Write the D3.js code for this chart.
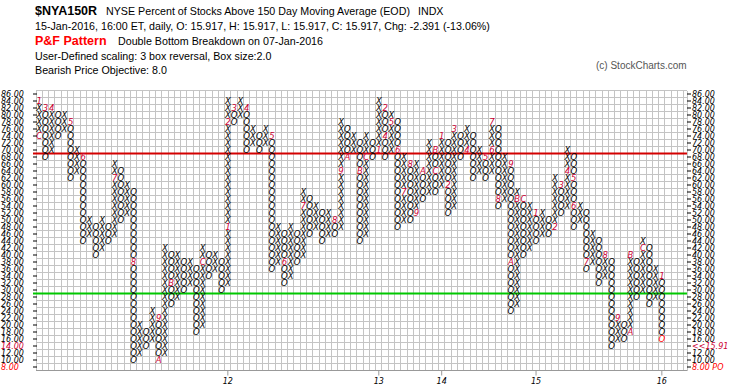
<!DOCTYPE html>
<html><head><meta charset="utf-8">
<script src="https://cdn.jsdelivr.net/npm/d3@7"></script>
<style>body{margin:0;background:#fff;}svg{display:block}</style>
</head><body><svg id="c" width="745" height="391"></svg>
<script>
// ---- DATA ----
const colType = "XOXOXOXOXOXOXOXOXOXOXOXOXOXOXOXOXOXOXOXOXOXOXOXOXOXOXOXOXOXOXOXOXOXOXOXOXOXOXOXOXOXOXOXOXOXOXOXOXOXO";
const colLow  = [74,68,70,74,76,62,64,44,46,40,42,44,46,50,52,10,12,14,16,10,
                 12,26,28,30,32,18,20,34,36,30,32,78,80,70,72,70,72,36,38,32,
                 34,38,40,46,48,44,46,46,48,68,70,44,46,68,70,68,70,48,50,50,
                 52,56,58,58,60,52,54,68,70,62,64,62,64,54,56,24,26,40,42,44,
                 46,46,48,52,54,48,50,36,38,32,34,14,16,16,18,28,30,26,28,16];
const colHigh = [84,82,82,80,80,78,70,68,50,48,50,48,66,64,60,58,20,18,24,22,
                 42,40,40,38,38,36,42,40,40,38,84,82,84,82,76,74,76,74,48,46,
                 48,46,58,56,54,52,52,50,78,76,74,72,74,72,84,82,80,78,68,66,
                 66,64,72,70,74,72,76,74,76,74,70,68,78,76,68,66,58,56,54,52,
                 52,50,62,60,70,68,54,52,46,44,40,38,22,20,40,38,44,42,36,34];
const monthMarks = [
  [0,74,"C"],[0,84,"1"],[1,82,"3"],[2,82,"4"],[5,78,"5"],[7,68,"6"],[12,62,"7"],
  [15,38,"8"],[19,22,"9"],[19,10,"A"],[21,32,"B"],[26,38,"C"],[30,48,"1"],[30,78,"2"],
  [31,82,"3"],[33,82,"4"],[37,74,"5"],[39,38,"6"],[42,54,"7"],[47,50,"8"],[48,64,"9"],
  [49,68,"A"],[51,64,"B"],[52,68,"C"],[54,70,"1"],[55,82,"2"],[55,74,"4"],[56,78,"5"],
  [57,70,"6"],[58,58,"7"],[59,66,"8"],[60,52,"9"],[61,64,"A"],[63,70,"B"],[63,64,"C"],
  [64,74,"1"],[65,60,"2"],[66,76,"3"],[68,70,"4"],[71,68,"5"],[72,70,"6"],[72,78,"7"],
  [73,56,"8"],[75,66,"9"],[75,38,"A"],[76,56,"B"],[77,56,"C"],[79,52,"1"],[82,48,"2"],
  [83,60,"3"],[84,64,"4"],[85,62,"5"],[85,54,"6"],[87,38,"7"],[90,40,"8"],[92,22,"9"],
  [94,18,"A"],[94,40,"B"],[96,42,"C"],[99,34,"1"]];
const lastBox = [99,16];
const yTickValues = [86,84,82,80,78,76,74,72,70,68,66,64,62,60,58,56,54,52,50,48,46,44,
                     42,40,38,36,34,32,30,28,26,24,22,20,18,16,14,12,10,8];
const yearTicks = [[30,"12"],[54,"13"],[64,"14"],[79,"15"],[99,"16"]];
const overbought = 70, oversold = 30;
const lastClose = "<<15.91", priceObjective = "8.00 PO";

// ---- DRAW ----
const svg = d3.select("#c");
svg.append("rect").attr("width",745).attr("height",391).attr("fill","#fff");
const x = d3.scaleLinear().domain([0,103.5]).range([36,687]);
const y = d3.scaleLinear().domain([86,8]).range([94,367]);
const rh = y(84)-y(86);
const gTop = y(86)-rh/2, gBot = y(8)+rh/2, gL = x(0), gR = x(103.5);

// grid
const grid = svg.append("g").attr("stroke","#c4c4c4").attr("stroke-width",1).attr("shape-rendering","crispEdges");
d3.range(0,104).forEach(k=>{ grid.append("line").attr("x1",x(k)).attr("x2",x(k)).attr("y1",gTop).attr("y2",gBot); });
grid.append("line").attr("x1",gR).attr("x2",gR).attr("y1",gTop).attr("y2",gBot);
yTickValues.forEach(v=>{ grid.append("line").attr("x1",gL).attr("x2",gR).attr("y1",y(v)-rh/2).attr("y2",y(v)-rh/2); });
grid.append("line").attr("x1",gL).attr("x2",gR).attr("y1",gBot).attr("y2",gBot).attr("stroke","#999");

// level lines
svg.append("line").attr("x1",gL-3).attr("x2",gR).attr("y1",y(overbought-1)).attr("y2",y(overbought-1))
  .attr("stroke","#d40000").attr("stroke-width",2);
svg.append("line").attr("x1",gL-3).attr("x2",gR).attr("y1",y(oversold-1)).attr("y2",y(oversold-1))
  .attr("stroke","#00c800").attr("stroke-width",2);

// boxes
const markMap = new Map(monthMarks.map(m=>[m[0]+"_"+m[1], m[2]]));
const boxes = [];
colType.split("").forEach((t,i)=>{
  for(let v=colLow[i]; v<=colHigh[i]; v+=2){
    const key=i+"_"+v;
    let txt=t, col="#000";
    if(markMap.has(key)){ txt=markMap.get(key); col="#cc0033"; }
    if(i===lastBox[0] && v===lastBox[1]) col="#ff0000";
    boxes.push({i,v,txt,col});
  }
});
svg.append("g").selectAll("text").data(boxes).join("text")
  .attr("x",d=>x(d.i+0.5)).attr("y",d=>y(d.v)+3.2)
  .attr("text-anchor","middle").attr("font-family","DejaVu Sans").attr("font-style","italic")
  .attr("font-size","8.5px").attr("fill",d=>d.col).text(d=>d.txt);

// y axes
const axF = "DejaVu Sans";
const ax = svg.append("g");
yTickValues.forEach(v=>{
  const c = v===14?"#cc0033":(v===8?"#ff0000":"#000");
  ax.append("line").attr("x1",gL-3).attr("x2",gL+1).attr("y1",y(v)).attr("y2",y(v)).attr("stroke","#000");
  ax.append("text").attr("x",1).attr("y",y(v)+3).attr("font-family",axF).attr("font-style","italic")
    .attr("font-size","8px").attr("fill",c).text(v.toFixed(2));
  ax.append("line").attr("x1",gR).attr("x2",gR+4).attr("y1",y(v)).attr("y2",y(v)).attr("stroke","#000");
  ax.append("text").attr("x",gR+5).attr("y",y(v)+3).attr("font-family",axF).attr("font-style","italic")
    .attr("font-size","8px").attr("fill",c)
    .text(v===14?lastClose:(v===8?priceObjective:v.toFixed(2)));
});

// year ticks
yearTicks.forEach(([c,l])=>{
  svg.append("line").attr("x1",x(c+0.5)).attr("x2",x(c+0.5)).attr("y1",gBot).attr("y2",gBot+5).attr("stroke","#999");
  svg.append("text").attr("x",x(c+0.5)).attr("y",gBot+13).attr("text-anchor","middle")
    .attr("font-family",axF).attr("font-style","italic").attr("font-size","8px").text(l);
});

// header
const hf = "Liberation Sans, Arial, sans-serif";
svg.append("text").attr("x",35).attr("y",15).attr("font-family",hf).attr("font-weight","bold").attr("font-size","12.5px").text("$NYA150R");
const t1 = svg.append("text").attr("x",106).attr("y",15).attr("font-family",hf).attr("font-size","10.7px")
  .text("NYSE Percent of Stocks Above 150 Day Moving Average (EOD)");
const w1 = t1.node().getComputedTextLength();
svg.append("text").attr("x",106+w1+8).attr("y",15).attr("font-family",hf).attr("font-size","10.7px").text("INDX");
svg.append("text").attr("x",35).attr("y",29.5).attr("font-family",hf).attr("font-size","10.7px")
  .text("15-Jan-2016, 16:00 ET, daily, O: 15.917, H: 15.917, L: 15.917, C: 15.917, Chg: -2.391 (-13.06%)");
svg.append("text").attr("x",35).attr("y",44.5).attr("font-family",hf).attr("font-weight","bold").attr("font-size","12.5px").attr("fill","#ff0000").text("P&F Pattern");
svg.append("text").attr("x",118).attr("y",44.5).attr("font-family",hf).attr("font-size","10.7px").text("Double Bottom Breakdown on 07-Jan-2016");
svg.append("text").attr("x",35).attr("y",59.5).attr("font-family",hf).attr("font-size","10.7px").text("User-Defined scaling: 3 box reversal, Box size:2.0");
svg.append("text").attr("x",35).attr("y",74).attr("font-family",hf).attr("font-size","10.7px").text("Bearish Price Objective: 8.0");
svg.append("text").attr("x",596).attr("y",69).attr("font-family",hf).attr("font-size","10px").attr("fill","#555").text("(c) StockCharts.com");
</script></body></html>
